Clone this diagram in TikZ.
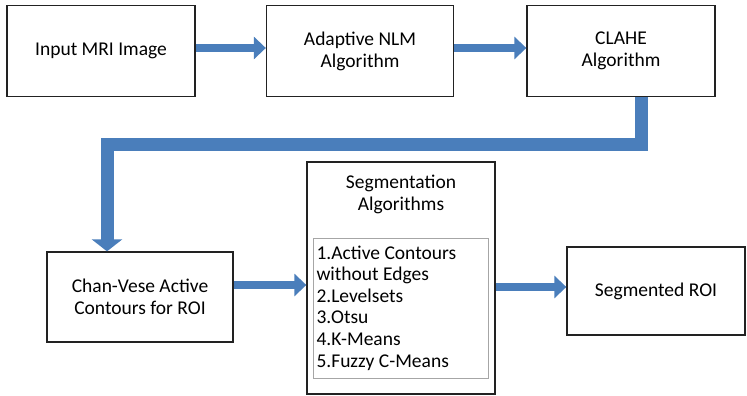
\documentclass[tikz,border=0pt]{standalone}
\usepackage{fontspec}
\setmainfont{Carlito}
\usetikzlibrary{positioning,arrows.meta}

\definecolor{flowblue}{HTML}{4A7EBB}
\definecolor{boxline}{HTML}{222222}

\begin{document}
\begin{tikzpicture}[x=1pt, y=-1pt,
    stage/.style={rectangle, draw=boxline, line width=1.3pt, text centered, align=center, font=\fontsize{19.5}{22}\selectfont},
    listbox/.style={rectangle, draw=gray!70, line width=0.9pt, align=flush left, inner sep=3pt, text width=168pt, minimum width=175pt, minimum height=140pt, font=\fontsize{19.5}{21.6}\selectfont},
    fat/.style={draw=flowblue, line width=8.5pt, -{Triangle[width=22pt,length=12pt]}},
    elbow/.style={draw=flowblue, line width=13pt, line join=miter, -{Triangle[width=30pt,length=12pt]}}]

\useasboundingbox (0,0) rectangle (747,396);

% Top row
\node[stage, minimum width=188pt, minimum height=91pt] (input) at (101,51) {Input MRI Image};
\node[stage, minimum width=187pt, minimum height=91pt] (nlm) at (360,51) {Adaptive NLM\\Algorithm};
\node[stage, minimum width=188pt, minimum height=91pt] (clahe) at (621,51) {CLAHE\\Algorithm};

% Bottom row
\node[stage, minimum width=186pt, minimum height=90pt] (chan) at (140,297) {Chan-Vese Active\\Contours for ROI};
\node[stage, minimum width=188pt, minimum height=232pt] (seg) at (401,278) {};
\node[font=\fontsize{19.5}{22}\selectfont, align=center] (segtitle) at (401,194) {Segmentation\\Algorithms};
\node[listbox] (seglist) at (400.5,308) {1.Active Contours\\without Edges\\2.Levelsets\\3.Otsu\\4.K-Means\\5.Fuzzy C-Means};
\node[stage, minimum width=178pt, minimum height=88pt] (roi) at (656,291) {Segmented ROI};

% Arrows
\coordinate (turn) at (107,144);
\coordinate (chanout) at ([yshift=12pt]chan.east);
\coordinate (roiin) at ([yshift=4pt]roi.west);
\draw[fat] ([yshift=3pt]input.east) -- ([yshift=3pt]nlm.west);
\draw[fat] ([yshift=3pt]nlm.east) -- ([yshift=3pt]clahe.west);
\draw[elbow] ([xshift=20pt]clahe.south) |- (turn) -- (turn |- chan.north);
\draw[fat] (chanout) -- (chanout -| seg.west);
\draw[fat] (roiin -| seg.east) -- (roiin);

\end{tikzpicture}
\end{document}
